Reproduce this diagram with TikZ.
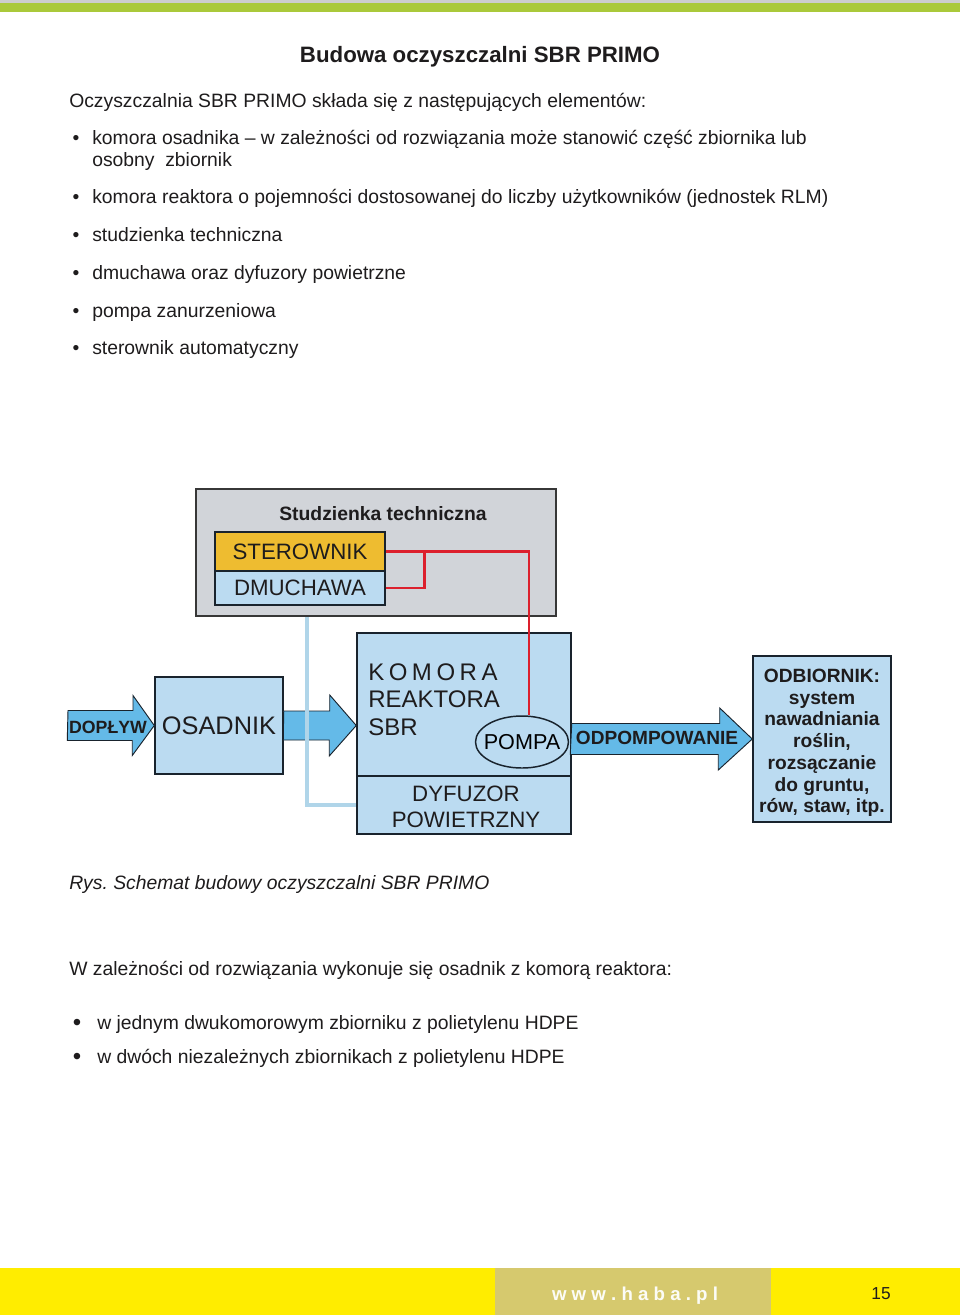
\documentclass[tikz,border=0pt]{standalone}
\usepackage{fontspec}
\setmainfont{Liberation Sans}
\usetikzlibrary{shapes.geometric,calc}
\frenchspacing

\definecolor{boxblue}{RGB}{187,219,241}
\definecolor{arrowblue}{RGB}{100,186,232}
\definecolor{boxline}{RGB}{25,35,45}
\definecolor{sterownikyellow}{RGB}{238,188,48}
\definecolor{chambergray}{RGB}{209,212,217}
\definecolor{chamberline}{RGB}{55,55,55}
\definecolor{cablered}{RGB}{220,32,45}
\definecolor{pipeblue}{RGB}{176,213,233}
\definecolor{topgreen}{RGB}{170,201,58}
\definecolor{topgray}{RGB}{205,205,205}
\definecolor{footyellow}{RGB}{255,237,0}
\definecolor{footkhaki}{RGB}{214,201,110}
\definecolor{inkblack}{RGB}{30,28,29}

\newcommand\ls{\hspace{3.4pt}}

\tikzset{
  body/.style={anchor=base west, inner sep=0pt, text=inkblack, font=\fontsize{14.5pt}{16.5pt}\selectfont},
  dot/.style={anchor=base, inner sep=0pt, text=inkblack, font=\fontsize{14.5pt}{16.5pt}\selectfont},
  bigdot/.style={dot, font=\fontsize{18pt}{18pt}\selectfont},
  box/.style={draw=boxline, line width=1.1pt, fill=boxblue, inner sep=0pt, align=center,
    text=inkblack, font=\fontsize{16.7pt}{19.5pt}\selectfont},
  chamber/.style={draw=chamberline, line width=1.5pt, fill=chambergray, inner sep=0pt,
    minimum width=270pt, minimum height=95.25pt},
  pompa/.style={ellipse, draw=boxline, line width=1.1pt, fill=boxblue, inner sep=0pt,
    minimum width=69.75pt, minimum height=39pt, font=\fontsize{16.2pt}{19pt}\selectfont},
  fatarrow/.style={draw=boxline, line width=0.7pt, fill=arrowblue},
  arrowtext/.style={inner sep=0pt, text=inkblack, font=\bfseries\fontsize{14.3pt}{16pt}\selectfont},
  cable/.style={draw=cablered, line width=2.2pt},
  pipe/.style={draw=pipeblue, line width=3pt}
}

\begin{document}
\begin{tikzpicture}[x=0.75pt,y=-0.75pt]
\useasboundingbox (0,0) rectangle (960,1315);
\fill[white] (0,0) rectangle (960,1315);
\fill[topgray] (0,0) rectangle (960,3);
\fill[topgreen] (0,3) rectangle (960,12);
\fill[footyellow] (0,1268) rectangle (960,1315);
\fill[footkhaki] (495,1268) rectangle (771,1315);

% text above the scheme
\node[anchor=base, inner sep=0pt, text=inkblack, font=\bfseries\fontsize{16.7pt}{19pt}\selectfont] (title) at (480,62) {Budowa oczyszczalni SBR PRIMO};
\node[body] (intro) at (69,107) {Oczyszczalnia SBR PRIMO składa się z następujących elementów:};
\node[dot] (dot1) at (76,144) {•};
\node[body] (item1) at (92,144) {komora osadnika – w zależności od rozwiązania może stanowić część zbiornika lub};
\node[body] (item1b) at (92,166) {osobny\ \ zbiornik};
\node[dot] (dot2) at (76,203) {•};
\node[body] (item2) at (92,203) {komora reaktora o pojemności dostosowanej do liczby użytkowników (jednostek RLM)};
\node[dot] (dot3) at (76,241) {•};
\node[body] (item3) at (92,241) {studzienka techniczna};
\node[dot] (dot4) at (76,279) {•};
\node[body] (item4) at (92,279) {dmuchawa oraz dyfuzory powietrzne};
\node[dot] (dot5) at (76,317) {•};
\node[body] (item5) at (92,317) {pompa zanurzeniowa};
\node[dot] (dot6) at (76,354) {•};
\node[body] (item6) at (92,354) {sterownik automatyczny};

% scheme
\node[chamber] (studzienka) at (376,552.5) {};
\node[anchor=base, inner sep=0pt, text=inkblack, font=\bfseries\fontsize{14.5pt}{17pt}\selectfont] (studtxt) at (383,520) {Studzienka techniczna};
\node[box, fill=sterownikyellow, minimum width=127.5pt, minimum height=29.25pt] (sterownik) at (300,551.5) {STEROWNIK};
\node[box, minimum width=127.5pt, minimum height=25.5pt] (dmuchawa) at (300,588) {DMUCHAWA};
\node[box, minimum width=96pt, minimum height=72.75pt, font=\fontsize{19pt}{22pt}\selectfont] (osadnik) at (219,725.5) {OSADNIK};
\node[box, minimum width=160.5pt, minimum height=107.25pt] (reaktor) at (464,704.5) {};
\node[box, minimum width=160.5pt, minimum height=43.5pt] (dyfuzor) at (464,805) {};
\node[inner sep=0pt, align=center, text=inkblack, font=\fontsize{16.7pt}{19.5pt}\selectfont] (dyftxt) at ($(dyfuzor.center)+(2,2)$) {DYFUZOR\\POWIETRZNY};
\node[anchor=west, inner sep=0pt, align=left, text=inkblack, font=\fontsize{18pt}{20.6pt}\selectfont] (komora) at (368,699.5) {K\ls O\ls M\ls O\ls R\ls A\\REAKTORA\\SBR};
\node[pompa] (pompa) at (522,742) {\makebox[0pt]{POMPA}};
\node[box, minimum width=103.5pt, minimum height=124.5pt] (odbiornik) at (822,739) {};
\node[inner sep=0pt, align=center, text=inkblack, font=\bfseries\fontsize{14.4pt}{16.3pt}\selectfont] (odbtxt) at ($(odbiornik.center)+(0,4)$)
  {ODBIORNIK:\\system\\nawadniania\\roślin,\\rozsączanie\\do gruntu,\\rów, staw, itp.};

\coordinate (inlet) at (68,725.5);
\draw[fatarrow] (inlet) ++(0,-15) -- ++(65,0) -- ++(0,-15) -- (osadnik.west) -- ++(-22,30) -- ++(0,-15) -- ++(-65,0) -- cycle;
\draw[fatarrow] (osadnik.east) ++(0,-14.5) -- ++(46,0) -- ++(0,-16) -- (reaktor.west |- osadnik.east) -- ++(-27,30.5) -- ++(0,-16) -- ++(-46,0) -- cycle;
\draw[fatarrow] (reaktor.east |- odbiornik.west) ++(0,-15.5) -- ++(148,0) -- ++(0,-15.5) -- (odbiornik.west) -- ++(-34,31) -- ++(0,-15.5) -- ++(-148,0) -- cycle;
\node[arrowtext, font=\bfseries\fontsize{13.3pt}{15pt}\selectfont] (doplyw) at (108,727) {DOPŁYW};
\node[arrowtext] (odpomp) at (657,738) {ODPOMPOWANIE};

\draw[pipe] ($(studzienka.south -| dmuchawa.south)+(7,0)$) |- (dyfuzor.west);
\draw[cable] (sterownik.east) -| ($(pompa.north)+(7,0)$);
\draw[cable] (dmuchawa.east) -- ++(39,0) |- (sterownik.east);

% text below the scheme
\node[body, font=\itshape\fontsize{14.5pt}{16.5pt}\selectfont] (caption) at (69,889) {Rys. Schemat budowy oczyszczalni SBR PRIMO};
\node[body] (variants) at (69,975) {W zależności od rozwiązania wykonuje się osadnik z komorą reaktora:};
\node[bigdot] (dot7) at (77,1030) {•};
\node[body] (var1) at (97,1029) {w jednym dwukomorowym zbiorniku z polietylenu HDPE};
\node[bigdot] (dot8) at (77,1064) {•};
\node[body] (var2) at (97,1063) {w dwóch niezależnych zbiornikach z polietylenu HDPE};

% footer
\node[anchor=base, inner sep=0pt, text=white!94!footkhaki, font=\bfseries\fontsize{14pt}{16pt}\selectfont] (www) at (635,1300) {w w w . h a b a . p l};
\node[anchor=base, inner sep=0pt, text=inkblack, font=\fontsize{13pt}{15pt}\selectfont] (page) at (881,1299) {15};
\end{tikzpicture}
\end{document}
